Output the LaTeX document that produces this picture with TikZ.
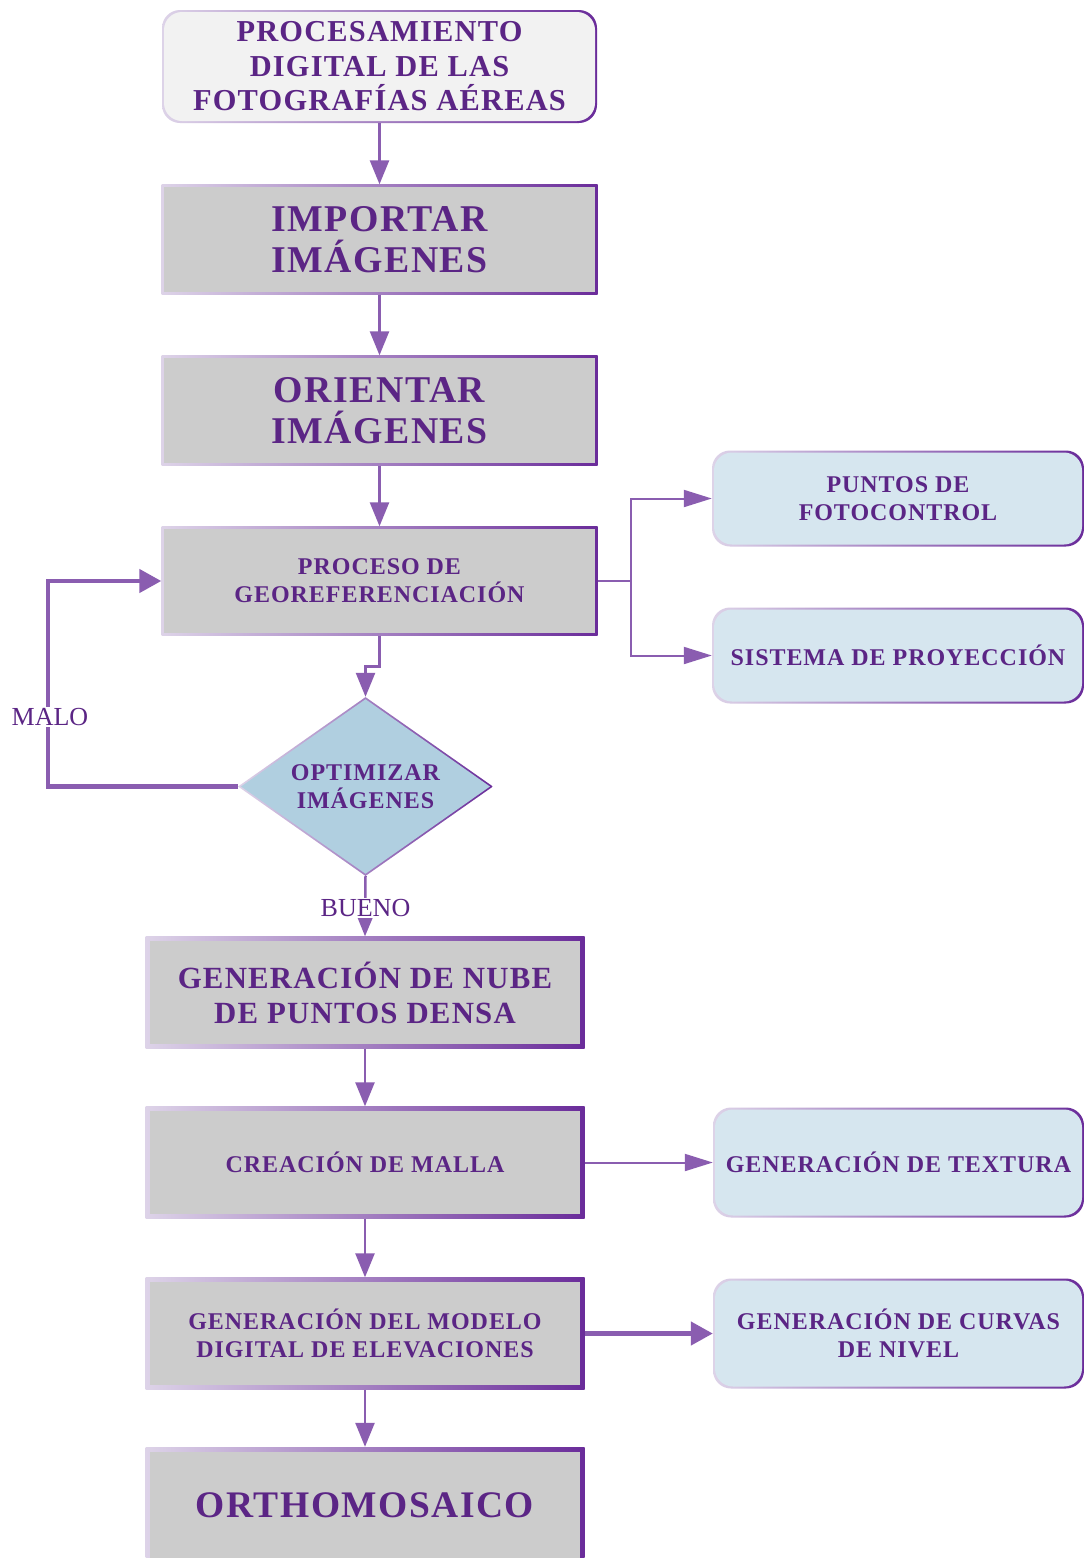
\documentclass[tikz,border=0pt]{standalone}
\usepackage{fontspec}
\setmainfont{Liberation Serif}
\newfontfamily\spfont[LetterSpace=4]{Liberation Serif}
\usetikzlibrary{arrows.meta,shapes.geometric}
\definecolor{txt}{HTML}{5B2585}
\definecolor{arr}{HTML}{8A5DB0}
\definecolor{bl}{HTML}{DDD3E8}
\definecolor{bd}{HTML}{6A2C9A}
\definecolor{grayf}{HTML}{CCCCCC}
\definecolor{bluef}{HTML}{D6E6EF}
\definecolor{diaf}{HTML}{B0CFE0}
\definecolor{topf}{HTML}{F2F2F2}
\tikzset{
  gb/.style n args={3}{rectangle, rounded corners=#2, inner sep=0pt, align=center, text=txt,
    path picture={
      \shade[left color=bl, right color=bd] (path picture bounding box.south west) rectangle (path picture bounding box.north east);
      \fill[#3, rounded corners=#2] ([shift={(#1,#1)}]path picture bounding box.south west) rectangle ([shift={(-#1,-#1)}]path picture bounding box.north east);
    }},
  ar/.style={draw=arr, line width=2.5pt, -{Triangle[length=24pt,width=19pt]}},
  arr2/.style={draw=arr, line width=2pt, -{Triangle[length=28pt,width=17pt]}},
  ark/.style={draw=arr, line width=4.5pt, -{Triangle[length=22pt,width=23pt]}},
  lbl/.style={fill=white, inner sep=1pt, text=txt, font=\fontsize{26}{30}\selectfont},
  fbig/.style={font=\spfont\bfseries\fontsize{37.8}{41}\selectfont},
  fort/.style={font=\spfont\bfseries\fontsize{37.5}{41}\selectfont},
  fmid/.style={font=\spfont\bfseries\fontsize{30.8}{35}\selectfont},
  ftop/.style={font=\spfont\bfseries\fontsize{30.4}{34.5}\selectfont},
  fsm/.style={font=\spfont\bfseries\fontsize{24}{28}\selectfont},
}
\begin{document}
\begin{tikzpicture}[x=1pt,y=-1pt]
\useasboundingbox[fill=white] (0,0) rectangle (1084,1558);
% main column
\node[gb={2pt}{18pt}{topf}, minimum width=435pt, minimum height=113pt, ftop] (top) at (379.5,66.5) {PROCESAMIENTO\\DIGITAL DE LAS\\FOTOGRAFÍAS AÉREAS};
\node[gb={2.5pt}{0pt}{grayf}, minimum width=436pt, minimum height=110pt, fbig] (imp) at (379.5,239.5) {IMPORTAR\\IMÁGENES};
\node[gb={2.5pt}{0pt}{grayf}, minimum width=436pt, minimum height=110pt, fbig] (ori) at (379.5,410.5) {ORIENTAR\\IMÁGENES};
\node[gb={2.5pt}{0pt}{grayf}, minimum width=436pt, minimum height=109pt, fsm] (pro) at (379.5,581) {PROCESO DE\\GEOREFERENCIACIÓN};
\node[diamond, minimum width=255pt, minimum height=179pt, inner sep=0pt,
  path picture={
    \shade[left color=bl, right color=bd] (path picture bounding box.south west) rectangle (path picture bounding box.north east);
    \fill[diaf] ([xshift=3pt]path picture bounding box.west) -- ([yshift=-2.2pt]path picture bounding box.north) -- ([xshift=-3pt]path picture bounding box.east) -- ([yshift=2.2pt]path picture bounding box.south) -- cycle;
  }] (dia) at (365.5,786.5) {};
\node[align=center, text=txt, fsm, inner sep=0pt] (diatxt) at (dia.center) {OPTIMIZAR\\IMÁGENES};
\node[gb={4.5pt}{0pt}{grayf}, minimum width=439pt, minimum height=112pt, fmid] (nub) at (365,992.5) {GENERACIÓN DE NUBE\\DE PUNTOS DENSA};
\node[gb={4.5pt}{0pt}{grayf}, minimum width=439pt, minimum height=112pt, fsm] (mal) at (365,1162.5) {CREACIÓN DE MALLA};
\node[gb={4.5pt}{0pt}{grayf}, minimum width=439pt, minimum height=112pt, fsm] (dem) at (365,1333.5) {GENERACIÓN DEL MODELO\\DIGITAL DE ELEVACIONES};
\node[gb={4.5pt}{0pt}{grayf}, minimum width=439pt, minimum height=116pt, fort] (ort) at (365,1505) {ORTHOMOSAICO};
% right column
\node[gb={2pt}{18pt}{bluef}, minimum width=372pt, minimum height=96pt, fsm] (pun) at (898,498.5) {PUNTOS DE\\FOTOCONTROL};
\node[gb={2pt}{18pt}{bluef}, minimum width=372pt, minimum height=96pt, fsm] (sis) at (898,655.5) {SISTEMA DE PROYECCIÓN};
\node[gb={2pt}{18pt}{bluef}, minimum width=371pt, minimum height=110pt, fsm] (tex) at (898.5,1162.5) {GENERACIÓN DE TEXTURA};
\node[gb={2pt}{18pt}{bluef}, minimum width=371pt, minimum height=110pt, fsm] (cur) at (898.5,1333.5) {GENERACIÓN DE CURVAS\\DE NIVEL};
% connectors
\draw[ar] (top) -- (imp);
\draw[ar] (imp) -- (ori);
\draw[ar] (ori) -- (pro);
\draw[ar] (pro.south) -- ++(0,31) -| (dia.north);
\coordinate (mc) at (48,786.5);
\draw[ark] (dia.west) -- (mc) |- (pro.west);
\node[lbl] (malo) at (50,717) {MALO};
\draw[ar] (dia.south) -- (nub.north);
\node[lbl] (bueno) at (365.5,908) {BUENO};
\coordinate (br) at (631,581);
\draw[arr2] (pro.east) -- (br) |- (pun.west);
\draw[arr2] (br) |- (sis.west);
\draw[ar] (nub) -- (mal);
\draw[ar] (mal) -- (dem);
\draw[ar] (dem) -- (ort);
\draw[arr2] (mal.east) -- (tex.west);
\draw[ark] (dem.east) -- (cur.west);
\end{tikzpicture}
\end{document}
